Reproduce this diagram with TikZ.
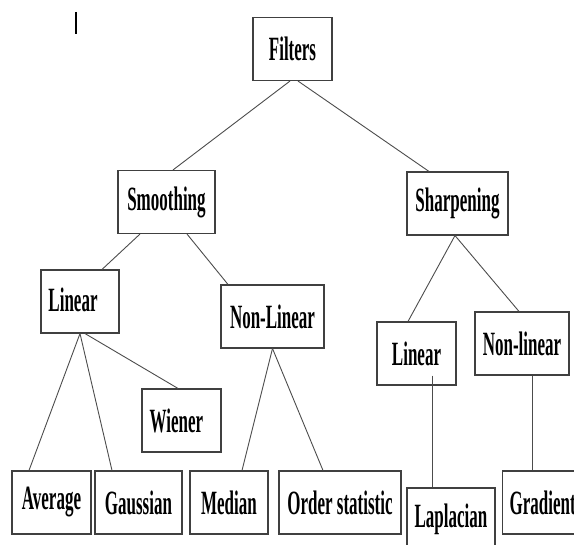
\documentclass[tikz,border=0pt]{standalone}
\usepackage{fontspec}
\newfontfamily\filterfont{Liberation Serif}[FakeStretch=0.5]
\usepackage{tikz}

\begin{document}
\begin{tikzpicture}[x=1pt,y=-1pt,semithick,
                    every node/.style={font=\filterfont\bfseries\fontsize{34}{34}\selectfont},
                    box/.style={draw=black!75,line width=1.1pt,minimum height=63,minimum width=#1,inner sep=0pt},
                    link/.style={draw=black!70,line width=0.9pt}]
    \useasboundingbox (0,0) rectangle (574,545);
    \clip (0,0) rectangle (574,545);

    % stray cursor mark
    \draw[line width=1.3pt] (76,12) -- (76,34);

    \node[box=79]  (filters) at (292.5,49)    {Filters};
    \node[box=97]  (smooth)  at (166.5,202)   {Smoothing};
    \node[box=101] (sharp)   at (457.5,203.5) {Sharpening};

    \node[box=78]  (linL)    at (80,301.5)    {\hspace*{-14pt}\raisebox{3pt}{Linear}};
    \node[box=103] (nonlinL) at (272.5,316.5) {Non-Linear};
    \node[box=79]  (linR)    at (416.5,353.5) {Linear};
    \node[box=94]  (nonlinR) at (522,343.5)   {Non-linear};
    \node[box=79]  (wiener)  at (181.5,420.5) {\hspace*{-10pt}Wiener};

    \node[box=79]  (average) at (51.5,502.5)  {Average};
    \node[box=87]  (gauss)   at (138.5,502.5) {Gaussian};
    \node[box=78]  (median)  at (229,502.5)   {Median};
    \node[box=122] (order)   at (340,502.5)   {Order statistic};
    \node[box=88]  (lapl)    at (451,519.5)   {\raisebox{4pt}{Laplacian}};
    \node[box=0,anchor=west,text width=86,align=left,inner xsep=7pt] (grad) at (502,502.5) {Gradient};

    \draw[link] ([xshift=-2.5pt]filters.south) -- ([xshift=6.5pt]smooth.north);
    \draw[link] ([xshift=5.5pt]filters.south)  -- ([xshift=-28.5pt]sharp.north);

    \draw[link] ([xshift=-26.5pt]smooth.south) -- ([xshift=22pt]linL.north);
    \draw[link] ([xshift=20.5pt]smooth.south)  -- ([xshift=-44.5pt]nonlinL.north);
    \draw[link] ([xshift=-2.5pt]sharp.south)   -- ([xshift=-8.5pt]linR.north);
    \draw[link] ([xshift=-2.5pt]sharp.south)   -- ([xshift=-3pt]nonlinR.north);

    \draw[link] (linL.south) -- ([xshift=-22.5pt]average.north);
    \draw[link] (linL.south) -- ([xshift=-26.5pt]gauss.north);
    \draw[link] ([xshift=5pt]linL.south) -- ([xshift=-3.5pt]wiener.north);

    \draw[link] (nonlinL.south) -- ([xshift=13pt]median.north);
    \draw[link] (nonlinL.south) -- ([xshift=-17pt]order.north);

    \coordinate (lapltop) at ([xshift=15.5pt,yshift=10pt]linR.south);
    \draw[link] (lapltop) -- (lapltop |- lapl.north);
    \coordinate (gradtop) at ([xshift=10pt]nonlinR.south);
    \draw[link] (gradtop) -- (gradtop |- grad.north);
\end{tikzpicture}
\end{document}
